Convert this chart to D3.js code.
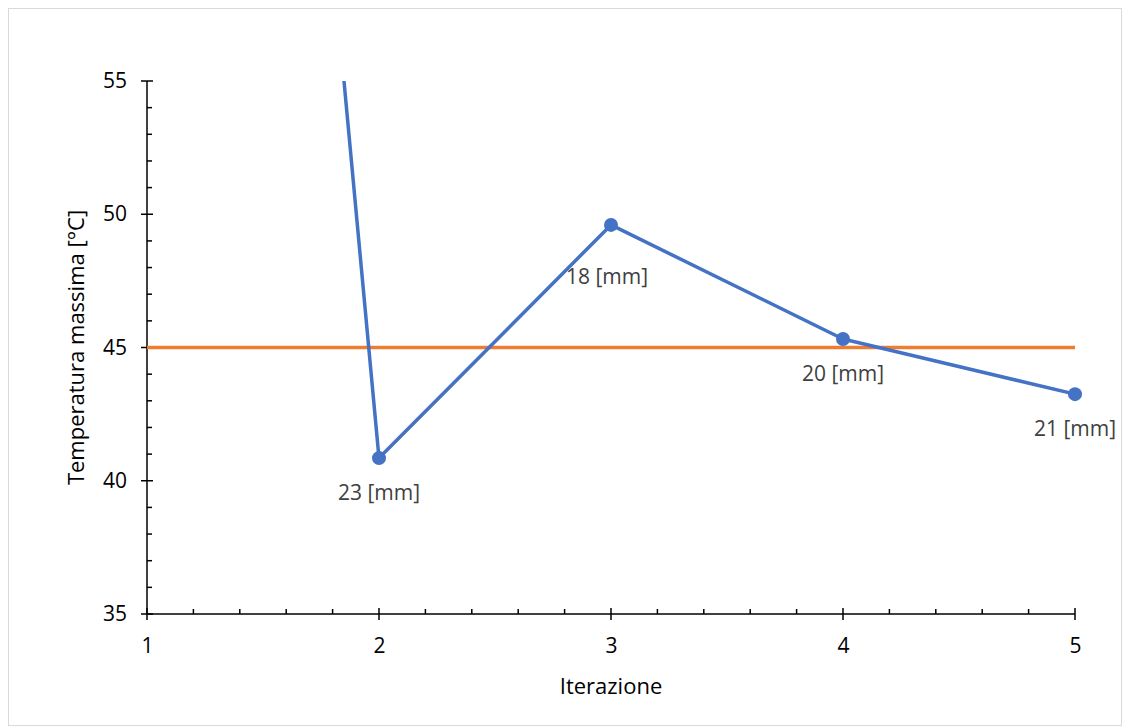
<!DOCTYPE html>
<html>
<head>
<meta charset="utf-8">
<script src="https://cdn.jsdelivr.net/npm/d3@7"></script>
<style>
  body { margin: 0; background: #fff; }
  text { font-family: "Open Sans", "Noto Sans", sans-serif; }
</style>
</head>
<body>
<div id="vis"></div>
<script>
// data
var iterations = [1, 2, 3, 4, 5];
var maxTemp = [134.6, 40.85, 49.6, 45.32, 43.25];
var pointLabels = [null, '23 [mm]', '18 [mm]', '20 [mm]', '21 [mm]'];
var limitTemp = 45;
var yTicks = [35, 40, 45, 50, 55];

var W = 1122, H = 726;
var margin = {top: 81, right: 47, bottom: 112, left: 147};

var svg = d3.select('#vis').append('svg')
	.attr('width', W)
	.attr('height', H);

// chart frame
svg.append('rect')
	.attr('x', 8.5).attr('y', 8.5)
	.attr('width', W - 9).attr('height', H - 9)
	.attr('fill', 'none')
	.attr('stroke', '#d9d9d9');

var x = d3.scaleLinear().domain([1, 5]).range([margin.left, W - margin.right]);
var y = d3.scaleLinear().domain([35, 55]).range([H - margin.bottom, margin.top]);

svg.append('defs').append('clipPath').attr('id', 'plot')
	.append('rect')
	.attr('x', x(1) - 10).attr('y', y(55))
	.attr('width', x(5) - x(1) + 60).attr('height', y(35) - y(55) + 40);

// minor ticks (inside)
var g = svg.append('g').attr('stroke', '#000').attr('stroke-width', 1.5);
d3.range(36, 55, 1).filter(function(v) { return v % 5 !== 0; }).forEach(function(v) {
	g.append('line').attr('x1', x(1)).attr('x2', x(1) + 5).attr('y1', y(v)).attr('y2', y(v));
});
d3.range(1.2, 5, 0.2).forEach(function(v) {
	if (Math.abs(v - Math.round(v)) < 1e-6) return;
	g.append('line').attr('x1', x(v)).attr('x2', x(v)).attr('y1', y(35)).attr('y2', y(35) - 5);
});

// y axis
var yAxis = svg.append('g')
	.attr('transform', 'translate(' + x(1) + ',0)')
	.call(d3.axisLeft(y).tickValues(yTicks).tickSize(0).tickPadding(20));
yAxis.select('.domain').remove();
yAxis.selectAll('text').attr('font-size', 21).attr('fill', '#000');
yTicks.forEach(function(v) {
	g.append('line').attr('x1', x(1) - 6).attr('x2', x(1) + 6).attr('y1', y(v)).attr('y2', y(v));
});
g.append('line').attr('x1', x(1)).attr('x2', x(1)).attr('y1', y(55)).attr('y2', y(35));

// x axis
var xAxis = svg.append('g')
	.attr('transform', 'translate(0,' + y(35) + ')')
	.call(d3.axisBottom(x).tickValues(iterations).tickSize(0).tickPadding(24).tickFormat(d3.format('d')));
xAxis.select('.domain').remove();
xAxis.selectAll('text').attr('font-size', 21).attr('fill', '#000');
iterations.forEach(function(v) {
	g.append('line').attr('x1', x(v)).attr('x2', x(v)).attr('y1', y(35) - 6).attr('y2', y(35) + 6);
});
g.append('line').attr('x1', x(1)).attr('x2', x(5)).attr('y1', y(35)).attr('y2', y(35));

// axis titles
svg.append('text')
	.attr('x', (x(1) + x(5)) / 2).attr('y', 694)
	.attr('text-anchor', 'middle')
	.attr('font-size', 22)
	.text('Iterazione');
svg.append('text')
	.attr('transform', 'translate(84,' + (y(45)) + ') rotate(-90)')
	.attr('text-anchor', 'middle')
	.attr('font-size', 22)
	.text('Temperatura massima [°C]');

// limit line
svg.append('line')
	.attr('x1', x(1)).attr('x2', x(5))
	.attr('y1', y(limitTemp)).attr('y2', y(limitTemp))
	.attr('stroke', '#ED7D31')
	.attr('stroke-width', 3.5);

// series
var pts = iterations.map(function(d, i) { return {x: d, y: maxTemp[i], label: pointLabels[i]}; });
var plot = svg.append('g').attr('clip-path', 'url(#plot)');

plot.append('path')
	.datum(pts)
	.attr('d', d3.line().x(function(d) { return x(d.x); }).y(function(d) { return y(d.y); }))
	.attr('fill', 'none')
	.attr('stroke', '#4472C4')
	.attr('stroke-width', 3.5)
	.attr('stroke-linejoin', 'round');

plot.selectAll('circle')
	.data(pts.filter(function(d) { return d.y <= 55; }))
	.enter().append('circle')
	.attr('cx', function(d) { return x(d.x); })
	.attr('cy', function(d) { return y(d.y); })
	.attr('r', 7)
	.attr('fill', '#4472C4');

// the label of iteration 3 sits a bit lower and to the left in the original
svg.selectAll('.lbl')
	.data(pts.filter(function(d) { return d.label && d.y <= 55; }))
	.enter().append('text')
	.attr('class', 'lbl')
	.attr('x', function(d) { return x(d.x) - (d.x === 3 ? 4 : 0); })
	.attr('y', function(d) { return y(d.y) + (d.x === 3 ? 59 : 42); })
	.attr('text-anchor', 'middle')
	.attr('font-size', 21)
	.attr('fill', '#404040')
	.text(function(d) { return d.label; });
</script>
</body>
</html>
